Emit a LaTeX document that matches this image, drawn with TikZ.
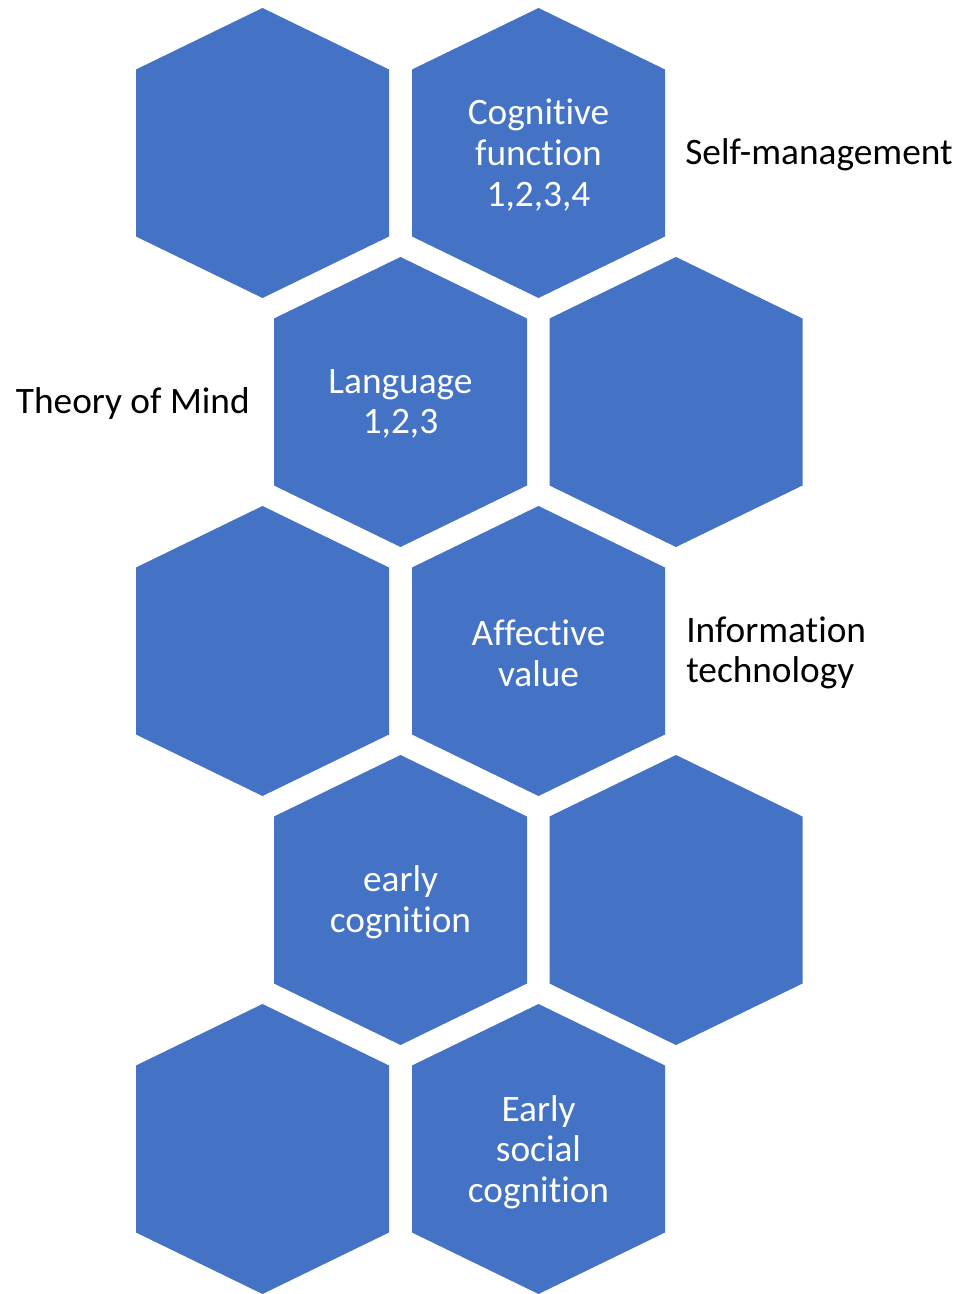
\documentclass[tikz,border=0pt]{standalone}
\usepackage{fontspec}
\setmainfont[Ligatures={NoCommon}]{Carlito}
\definecolor{hexblue}{HTML}{4472C4}
\tikzset{
  hexfill/.style={fill=hexblue},
  hextext/.style={text=white, align=center, font=\fontsize{28pt}{30.5pt}\selectfont, inner sep=0pt},
  sidetext/.style={text=black, font=\fontsize{28pt}{30.5pt}\selectfont, inner sep=0pt}
}
\begin{document}
\begin{tikzpicture}[x=0.75pt,y=-0.75pt]
\useasboundingbox (0,0) rectangle (963,1294);
\foreach \cx/\cy in {262.5/153, 538.5/153, 400.5/402, 676/402, 262.5/651, 538.5/651, 400.5/900, 676/900, 262.5/1149, 538.5/1149}{
  \fill[hexfill] (\cx,{\cy-145}) -- ({\cx+126.5},{\cy-83.5}) -- ({\cx+126.5},{\cy+83.5}) -- (\cx,{\cy+145}) -- ({\cx-126.5},{\cy+83.5}) -- ({\cx-126.5},{\cy-83.5}) -- cycle;
}
\node[hextext] (cog) at (538.5,155) {Cognitive\\function\\1,2,3,4};
\node[hextext] (lang) at (400.5,404) {Language\\1,2,3};
\node[hextext] (aff) at (538.5,653) {Affective\\value};
\node[hextext] (early) at (400.5,902) {early\\cognition};
\node[hextext] (social) at (538.5,1152) {Early\\social\\cognition};
\node[sidetext, anchor=west] (self) at (685,155) {Self-management};
\node[sidetext, anchor=east] (tom) at (250,404) {Theory of Mind};
\node[sidetext, anchor=west, align=left] (info) at (686,653) {Information\\technology};
\end{tikzpicture}
\end{document}
